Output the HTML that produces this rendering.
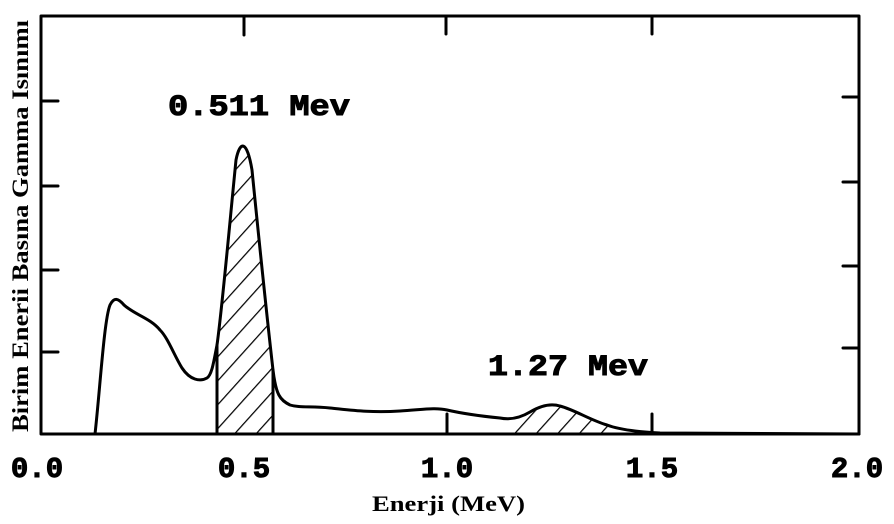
<!DOCTYPE html>
<html><head><style>
html,body{margin:0;padding:0;background:#fff;}
svg{display:block;}
.m{font-family:"Liberation Mono",monospace;font-weight:bold;fill:#000;stroke:#000;stroke-width:1;}
.s{font-family:"Liberation Serif",serif;font-weight:bold;fill:#000;}
</style></head><body>
<svg width="894" height="524" viewBox="0 0 894 524" xmlns="http://www.w3.org/2000/svg">
<defs>
<pattern id="h" patternUnits="userSpaceOnUse" width="16" height="16" patternTransform="rotate(42)">
<line x1="0" y1="0" x2="0" y2="16" stroke="#000" stroke-width="2.5"/>
</pattern>
<clipPath id="c1"><rect x="217" y="100" width="56" height="340"/></clipPath>
<clipPath id="c2"><rect x="512" y="380" width="110" height="60"/></clipPath>
</defs>
<g fill="url(#h)" stroke="none">
<path clip-path="url(#c1)" d="M200,380 C207,380 212,372 217,345 C222,310 230,220 236,160 C240,140 247,140 252,170 C258,230 265,300 273,370 C276,395 280,400 290,405 L290,434 L200,434 Z"/>
<path clip-path="url(#c2)" d="M500,418 C510,420 520,418 530,412 C540,406 550,403 560,406 C575,410 590,420 607,425 C615,428 620,430 627,431 L627,434 L500,434 Z"/>
</g>
<g fill="none" stroke="#000" stroke-width="3" stroke-linejoin="round" stroke-linecap="round">
<path d="M95,434 C100,390 104,320 110,305 C114,297 118,298 124,305 C135,315 150,318 160,330 C168,338 174,355 182,368 C190,380 200,382 207,378 C212,375 214,360 217,345 C222,310 230,220 236,160 C240,140 247,140 252,170 C258,230 265,300 273,370 C276,395 280,400 290,405 C300,408 310,406 330,408 C350,410 370,413 400,411 C420,410 435,407 447,410 C460,413 480,416 500,418 C510,420 520,418 530,412 C540,406 550,403 560,406 C575,410 590,420 607,425 C620,430 640,432 660,433 L859,434"/>
<rect x="41" y="16" width="818" height="418"/>
<line x1="217" y1="345" x2="217" y2="434"/>
<line x1="273" y1="370" x2="273" y2="434"/>
<line x1="41" y1="101" x2="58" y2="101"/>
<line x1="41" y1="186" x2="58" y2="186"/>
<line x1="41" y1="270" x2="58" y2="270"/>
<line x1="41" y1="352" x2="58" y2="352"/>
<line x1="843" y1="97" x2="859" y2="97"/>
<line x1="843" y1="182" x2="859" y2="182"/>
<line x1="843" y1="266" x2="859" y2="266"/>
<line x1="843" y1="348" x2="859" y2="348"/>
<line x1="244" y1="16" x2="244" y2="35"/>
<line x1="446" y1="16" x2="446" y2="34"/>
<line x1="652" y1="16" x2="652" y2="34"/>
<line x1="447" y1="414" x2="447" y2="434"/>
<line x1="652" y1="414" x2="652" y2="434"/>
</g>
<text class="m" x="168" y="115" font-size="30" textLength="182" lengthAdjust="spacingAndGlyphs">0.511 Mev</text>
<text class="m" x="488" y="375" font-size="30" textLength="160" lengthAdjust="spacingAndGlyphs">1.27 Mev</text>
<g class="m" font-size="29" text-anchor="middle">
<text x="37" y="477">0.0</text>
<text x="244" y="477">0.5</text>
<text x="447" y="477">1.0</text>
<text x="652" y="477">1.5</text>
<text x="857" y="477">2.0</text>
</g>
<text class="s" x="372" y="511" font-size="22" textLength="153" lengthAdjust="spacingAndGlyphs">Enerji (MeV)</text>
<text class="s" transform="translate(28,226) rotate(-90)" font-size="23" text-anchor="middle" textLength="412" lengthAdjust="spacingAndGlyphs">Birim Enerii Basına Gamma Isınımı</text>
</svg>
</body></html>
